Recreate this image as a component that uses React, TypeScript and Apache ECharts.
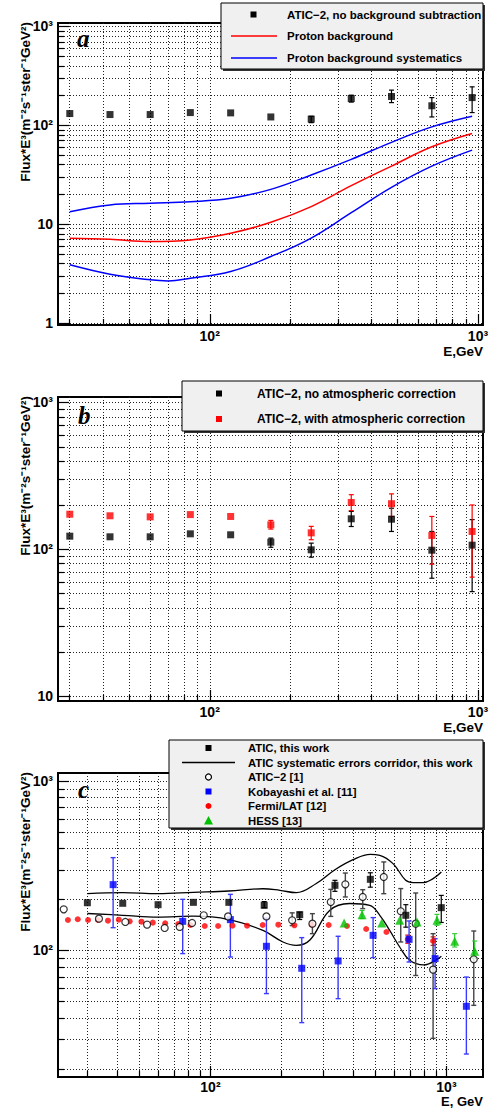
import React, { useEffect, useRef } from 'react';
import * as echarts from 'echarts';

// ---------------- DATA ----------------
const E_ATIC = [30.1, 42.5, 60, 84.7, 119.7, 169, 239, 337, 476, 673, 951];

// Panel a
const A_FLUX = [131, 128, 128, 134, 133, 121, 115, 186, 195, 157, 190];
const A_LO = [null, null, null, null, null, null, 106, 171, 169, 121, 134];
const A_HI = [null, null, null, null, null, null, 123, 201, 226, 190, 244];
const A_CURVE_E = [30.1, 42.5, 60, 84.7, 119.7, 169, 239, 337, 476, 673, 951];
const A_PROTON = [7.16, 7.0, 6.64, 6.9, 8.05, 10.4, 15.0, 24.4, 38.5, 60.4, 82.4];
const A_SYS_HI = [13.3, 15.6, 16.2, 16.8, 18.2, 22.4, 31.3, 45, 67, 96, 123];
const A_SYS_LO_E = [30.1, 42.5, 60, 70, 84.7, 119.7, 169, 239, 337, 476, 673, 951];
const A_SYS_LO = [3.86, 3.1, 2.72, 2.65, 2.82, 3.3, 4.68, 7.2, 13.0, 23.5, 38.5, 55.9];

// Panel b
const B_NOCORR = [122.6, 121.4, 121.4, 127.2, 125.3, 111.6, 99, 161, 160, 98.4, 106.5];
const B_NOCORR_LO = [null, null, null, null, null, 103, 88.2, 142.7, 132, 63.4, 51.4];
const B_NOCORR_HI = [null, null, null, null, null, 118.9, 109.9, 180.8, 190, 132, 159];
const B_CORR = [173, 168.8, 166, 172, 167, 146.5, 129.2, 208, 204, 124, 132];
const B_CORR_LO = [null, null, null, null, null, 137, 116, 183, 167, 79, 64.5];
const B_CORR_HI = [null, null, null, null, null, 157, 143, 235, 238, 167, 200];

// Panel c
const C_ATIC = [191, 189.5, 186, 192, 192, 184.4, 162.4, 242, 262.6, 161, 178.6];
const C_ATIC_LO = [null, null, null, null, null, 178.6, 152, 223, 236, 137, 146];
const C_ATIC_HI = [null, null, null, null, null, 194, 168, 259, 287, 186, 211];

const C_SYS_HI_E = [30.1, 42.5, 60, 84.7, 119.7, 167, 197, 231, 281, 337, 402, 476, 522, 594, 672, 722, 796, 878, 952];
const C_SYS_HI = [216, 219, 216, 220, 224, 231, 226, 219, 248, 299, 343, 369, 364, 325, 259, 251, 251, 265, 290];
const C_SYS_LO_E = [30.1, 42.5, 60, 84.7, 119.7, 167, 203, 231, 264, 320, 389, 473, 522, 575, 634, 699, 800, 952];
const C_SYS_LO = [165, 161, 157, 159, 152, 131, 112, 107, 115, 172, 189, 184, 161, 131, 104.6, 87.3, 82, 92.2];

const C_ATIC2_E = [23.9, 33.7, 43.6, 53.9, 64.0, 74.1, 83.6, 93.7, 118.8, 172.7, 222, 270.5, 323.6, 373, 442, 542.7, 640.5, 741, 878, 1306];
const C_ATIC2 = [174.6, 153.8, 147, 141.8, 135.5, 137.4, 145, 161, 158.6, 158.6, 150.4, 143.7, 192.8, 245.3, 206.6, 271, 170, 143.7, 76.9, 88.5];
const C_ATIC2_LO = [null, null, null, null, null, null, null, null, null, null, 140, 125.4, 158.6, 206.6, 176.3, 216, 112, 71, 30.2, 47.3];
const C_ATIC2_HI = [null, null, null, null, null, null, null, null, null, null, 166.4, 164.6, 229, 286, 228, 332.6, 231.5, 218, 125.4, 130];

const C_KOB_E = [38.7, 76.3, 121.5, 172.7, 243.8, 347.6, 489, 694.7, 895.6, 1215];
const C_KOB = [244.2, 148.3, 151.7, 105.6, 78.3, 86.5, 122.6, 116.1, 89.3, 46.7];
const C_KOB_LO = [136, 95.6, 91.3, 55.5, 37.4, 51.8, 90.5, 85.3, 59.4, 24.4];
const C_KOB_HI = [352.6, 200, 214, 155, 118.8, 121, 156, 149, 117, 69.5];

const C_FERMI_E = [24.9, 27.4, 30.3, 33.4, 36.8, 40.9, 45.5, 51, 57, 64.3, 73, 82.3, 94.6, 107.8, 124, 143, 166.6, 194, 227, 268.8, 317, 379, 457, 557, 686, 878];
const C_FERMI = [151, 152.5, 151, 151, 149.6, 151.7, 148.3, 147.6, 145.7, 144.3, 143, 141.1, 139.2, 139.2, 139.8, 139.8, 141.1, 141.7, 140.5, 141.7, 141.1, 139.2, 133.6, 128.3, 116.1, 113.5];
const C_FERMI_LO = [null, null, null, null, null, null, null, null, null, null, null, null, null, null, null, null, null, null, null, null, null, null, null, null, 110, 107];
const C_FERMI_HI = [null, null, null, null, null, null, null, null, null, null, null, null, null, null, null, null, null, null, null, null, null, null, null, null, 123, 120];

const C_HESS_E = [368.6, 439, 532, 634, 751, 912, 1084, 1318];
const C_HESS = [145, 162.4, 145, 150.4, 147, 150.4, 113, 98.7];
const C_HESS_LO = [null, 154, null, null, null, 140.5, 104.6, 90.5];
const C_HESS_HI = [null, 172, null, null, null, 163, 125.4, 113.5];

// Grid / tick values
const X_TICKS = [30, 40, 50, 60, 70, 80, 90, 100, 200, 300, 400, 500, 600, 700, 800, 900, 1000];
const Y_TICKS_A = [1, 2, 3, 4, 5, 6, 7, 8, 9, 10, 20, 30, 40, 50, 60, 70, 80, 90, 100, 200, 300, 400, 500, 600, 700, 800, 900, 1000];
const Y_TICKS_B = [10, 20, 30, 40, 50, 60, 70, 80, 90, 100, 200, 300, 400, 500, 600, 700, 800, 900, 1000];
const Y_TICKS_C = [20, 30, 40, 50, 60, 70, 80, 90, 100, 200, 300, 400, 500, 600, 700, 800, 900, 1000];

// ---------------- LAYOUT ----------------
const FONT = 'Liberation Sans';
const PANELS = [
  { top: 23, height: 302, xmin: 27.2, xmax: 1044, ymin: 0.95, ymax: 1080, xLabelMargin: 4 },
  { top: 397, height: 304, xmin: 27.2, xmax: 1044, ymin: 9.25, ymax: 1087, xLabelMargin: 4 },
  { top: 773, height: 304, xmin: 22.6, xmax: 1429, ymin: 17.85, ymax: 1115, xLabelMargin: 3 },
];
const GRID_LEFT = 58;
const GRID_WIDTH = 425;

function isPow10(v: number) {
  const l = Math.log10(v);
  return Math.abs(l - Math.round(l)) < 1e-6;
}

function powLabel(v: number): string {
  if (!isPow10(v)) return '';
  const r = Math.round(Math.log10(v));
  if (r === 0) return '1';
  if (r === 1) return '10';
  if (r === 2) return '10²';
  if (r === 3) return '10³';
  return '';
}

function pairs(xs: number[], ys: number[]) {
  return xs.map((x, i) => [x, ys[i]]);
}

function gridSeries(idx: number, yTicks: number[]) {
  const p = PANELS[idx];
  const xm = Math.sqrt(p.xmin * p.xmax);
  const ym = Math.sqrt(p.ymin * p.ymax);
  const data: number[][] = [];
  X_TICKS.forEach((v) => data.push([v, ym, 0, isPow10(v) ? 1 : 0]));
  yTicks.forEach((v) => data.push([xm, v, 1, isPow10(v) ? 1 : 0]));
  return {
    type: 'custom',
    xAxisIndex: idx,
    yAxisIndex: idx,
    silent: true,
    z: 1,
    encode: { x: 0, y: 1 },
    data,
    renderItem: (params: any, api: any) => {
      const cs = params.coordSys;
      const pt = api.coord([api.value(0), api.value(1)]);
      const kind = api.value(2);
      const major = api.value(3);
      const len = major ? 11 : 6;
      const dot = { stroke: '#222', lineWidth: 1, lineDash: [1, 2] };
      const solid = { stroke: '#000', lineWidth: 1.2 };
      if (kind === 0) {
        const x = Math.round(pt[0]) + 0.5;
        const yb = cs.y + cs.height;
        return {
          type: 'group',
          children: [
            { type: 'line', shape: { x1: x, y1: cs.y, x2: x, y2: yb }, style: dot },
            { type: 'line', shape: { x1: x, y1: yb, x2: x, y2: yb - len }, style: solid },
          ],
        };
      }
      const y = Math.round(pt[1]) + 0.5;
      return {
        type: 'group',
        children: [
          { type: 'line', shape: { x1: cs.x, y1: y, x2: cs.x + cs.width, y2: y }, style: dot },
          { type: 'line', shape: { x1: cs.x, y1: y, x2: cs.x + len, y2: y }, style: solid },
        ],
      };
    },
  };
}

function errSeries(idx: number, xs: number[], lo: (number | null)[], hi: (number | null)[], color: string, width = 1.2) {
  const data: number[][] = [];
  xs.forEach((x, i) => {
    const l = lo[i];
    const h = hi[i];
    if (l != null && h != null) data.push([x, l, h]);
  });
  return {
    type: 'custom',
    xAxisIndex: idx,
    yAxisIndex: idx,
    silent: true,
    z: 4,
    encode: { x: 0, y: [1, 2] },
    data,
    renderItem: (params: any, api: any) => {
      const a = api.coord([api.value(0), api.value(1)]);
      const b = api.coord([api.value(0), api.value(2)]);
      const cap = 2.5;
      const st = { stroke: color, lineWidth: width };
      return {
        type: 'group',
        children: [
          { type: 'line', shape: { x1: a[0], y1: a[1], x2: b[0], y2: b[1] }, style: st },
          { type: 'line', shape: { x1: a[0] - cap, y1: a[1], x2: a[0] + cap, y2: a[1] }, style: st },
          { type: 'line', shape: { x1: b[0] - cap, y1: b[1], x2: b[0] + cap, y2: b[1] }, style: st },
        ],
      };
    },
  };
}

function scatter(idx: number, xs: number[], ys: number[], symbol: string, size: number, itemStyle: any) {
  return {
    type: 'scatter',
    xAxisIndex: idx,
    yAxisIndex: idx,
    silent: true,
    z: 5,
    symbol,
    symbolSize: size,
    itemStyle,
    data: pairs(xs, ys),
  };
}

function curve(idx: number, xs: number[], ys: number[], color: string, width = 1.5) {
  return {
    type: 'line',
    xAxisIndex: idx,
    yAxisIndex: idx,
    silent: true,
    z: 3,
    smooth: 0.4,
    showSymbol: false,
    symbol: 'none',
    lineStyle: { color, width },
    data: pairs(xs, ys),
  };
}

function txt(text: string, x: number, y: number, fontSize: number, extra: any = {}) {
  return {
    type: 'text',
    z: 102,
    silent: true,
    style: {
      text,
      x,
      y,
      fill: '#000',
      fontSize,
      fontWeight: 'bold',
      fontFamily: FONT,
      verticalAlign: 'middle',
      align: 'left',
      ...extra,
    },
  };
}

function box(x: number, y: number, w: number, h: number) {
  return [
    { type: 'rect', z: 100, silent: true, shape: { x: x + 2, y: y + 2, width: w, height: h }, style: { fill: '#333' } },
    { type: 'rect', z: 101, silent: true, shape: { x, y, width: w, height: h }, style: { fill: '#f0f0f0', stroke: '#000', lineWidth: 1 } },
  ];
}

function sq(cx: number, cy: number, s: number, color: string) {
  return { type: 'rect', z: 102, silent: true, shape: { x: cx - s / 2, y: cy - s / 2, width: s, height: s }, style: { fill: color } };
}

function seg(x1: number, x2: number, y: number, color: string, w = 1.5) {
  return { type: 'line', z: 102, silent: true, shape: { x1, y1: y, x2, y2: y }, style: { stroke: color, lineWidth: w } };
}

function buildOption() {
  const grids = PANELS.map((p) => ({
    left: GRID_LEFT,
    top: p.top,
    width: GRID_WIDTH,
    height: p.height,
    show: true,
    borderColor: '#000',
    borderWidth: 2,
    backgroundColor: 'transparent',
    containLabel: false,
    outerBoundsMode: 'none',
  }));
  const axisLabel = {
    formatter: (v: number) => powLabel(v),
    fontSize: 14,
    fontWeight: 'bold',
    fontFamily: FONT,
    color: '#000',
    margin: 5,
  };
  const xAxis = PANELS.map((p, i) => ({
    type: 'log',
    logBase: 10,
    gridIndex: i,
    min: p.xmin,
    max: p.xmax,
    axisLine: { show: false },
    axisTick: { show: false },
    splitLine: { show: false },
    axisLabel: { ...axisLabel, margin: p.xLabelMargin, lineHeight: 14 },
  }));
  const yAxis = PANELS.map((p, i) => ({
    type: 'log',
    logBase: 10,
    gridIndex: i,
    min: p.ymin,
    max: p.ymax,
    axisLine: { show: false },
    axisTick: { show: false },
    splitLine: { show: false },
    axisLabel,
  }));

  const series: any[] = [
    // Panel a
    gridSeries(0, Y_TICKS_A),
    curve(0, A_CURVE_E, A_PROTON, '#ff0000'),
    curve(0, A_CURVE_E, A_SYS_HI, '#0000ff'),
    curve(0, A_SYS_LO_E, A_SYS_LO, '#0000ff'),
    errSeries(0, E_ATIC, A_LO, A_HI, '#000'),
    scatter(0, E_ATIC, A_FLUX, 'rect', 7, { color: '#000' }),
    // Panel b
    gridSeries(1, Y_TICKS_B),
    errSeries(1, E_ATIC, B_NOCORR_LO, B_NOCORR_HI, '#000'),
    scatter(1, E_ATIC, B_NOCORR, 'rect', 7, { color: '#000' }),
    errSeries(1, E_ATIC, B_CORR_LO, B_CORR_HI, '#ff0000'),
    scatter(1, E_ATIC, B_CORR, 'rect', 7, { color: '#ff0000' }),
    // Panel c
    gridSeries(2, Y_TICKS_C),
    curve(2, C_SYS_HI_E, C_SYS_HI, '#000', 1.3),
    curve(2, C_SYS_LO_E, C_SYS_LO, '#000', 1.3),
    errSeries(2, C_FERMI_E, C_FERMI_LO, C_FERMI_HI, '#ff0000'),
    scatter(2, C_FERMI_E, C_FERMI, 'circle', 6, { color: '#ff0000' }),
    errSeries(2, C_KOB_E, C_KOB_LO, C_KOB_HI, '#3c3cff', 1.4),
    scatter(2, C_KOB_E, C_KOB, 'rect', 7, { color: '#0000ff' }),
    errSeries(2, C_ATIC2_E, C_ATIC2_LO, C_ATIC2_HI, '#444', 1.4),
    scatter(2, C_ATIC2_E, C_ATIC2, 'circle', 7, { color: '#fff', borderColor: '#000', borderWidth: 1.2 }),
    errSeries(2, C_HESS_E, C_HESS_LO, C_HESS_HI, '#33cc33'),
    scatter(2, C_HESS_E, C_HESS, 'triangle', 9, { color: '#00c000' }),
    errSeries(2, E_ATIC, C_ATIC_LO, C_ATIC_HI, '#000'),
    scatter(2, E_ATIC, C_ATIC, 'rect', 7, { color: '#000' }),
  ];

  const yTitle = 'Flux*E³(m⁻²s⁻¹ster⁻¹GeV²)';
  const graphic: any[] = [
    // y titles
    ...PANELS.map((p) => ({
      type: 'text',
      z: 50,
      silent: true,
      x: 25,
      y: p.top - 1,
      rotation: Math.PI / 2,
      style: { text: yTitle, x: 0, y: 0, fill: '#000', fontSize: 13.5, fontWeight: 'bold', fontFamily: FONT, align: 'right', verticalAlign: 'middle' },
    })),
    // x titles
    txt('E,GeV', 483, 351, 13.5, { align: 'right', lineHeight: 13 }),
    txt('E,GeV', 483, 727, 13.5, { align: 'right', lineHeight: 13 }),
    txt('E, GeV', 483, 1101.5, 13, { align: 'right', lineHeight: 11 }),
    // panel letters
    txt('a', 77, 38, 25, { fontFamily: 'Liberation Serif', fontStyle: 'italic' }),
    txt('b', 78, 415, 25, { fontFamily: 'Liberation Serif', fontStyle: 'italic' }),
    txt('c', 78, 789, 25, { fontFamily: 'Liberation Serif', fontStyle: 'italic' }),
    // legend a
    ...box(221, 3, 262, 66),
    sq(253.5, 14.5, 6, '#000'),
    txt('ATIC−2, no background subtraction', 287, 14.5, 11.5),
    seg(231, 277, 36, '#ff0000'),
    txt('Proton background', 287, 36, 11.5),
    seg(231, 277, 58, '#0000ff'),
    txt('Proton background systematics', 287, 58, 11.5),
    // legend b
    ...box(182, 381, 301, 50),
    sq(219, 393.5, 6, '#000'),
    txt('ATIC−2, no atmospheric correction', 257, 393.5, 12),
    sq(219, 419, 6, '#ff0000'),
    txt('ATIC−2, with atmospheric correction', 257, 419, 12),
    // legend c
    ...box(169, 740, 314, 88),
    sq(208.5, 748, 6, '#000'),
    txt('ATIC, this work', 248, 748, 11.3),
    seg(182, 235, 762.5, '#000', 1.3),
    txt('ATIC systematic errors corridor, this work', 248, 762.5, 11.3),
    { type: 'circle', z: 102, silent: true, shape: { cx: 208.5, cy: 777, r: 3 }, style: { fill: '#fff', stroke: '#000', lineWidth: 1.2 } },
    txt('ATIC−2 [1]', 248, 777, 11.3),
    sq(208.5, 791.5, 6, '#0000ff'),
    txt('Kobayashi et al. [11]', 248, 791.5, 11.3),
    { type: 'circle', z: 102, silent: true, shape: { cx: 208.5, cy: 806, r: 3 }, style: { fill: '#ff0000' } },
    txt('Fermi/LAT [12]', 248, 806, 11.3),
    { type: 'polygon', z: 102, silent: true, shape: { points: [[208.5, 816], [213, 824.5], [204, 824.5]] }, style: { fill: '#00c000' } },
    txt('HESS [13]', 248, 820.5, 11.3),
  ];

  return {
    animation: false,
    backgroundColor: '#fff',
    grid: grids,
    xAxis,
    yAxis,
    series,
    graphic,
  };
}

export default function App() {
  const ref = useRef<HTMLDivElement>(null);
  useEffect(() => {
    if (!ref.current) return;
    const chart = echarts.init(ref.current, undefined, { renderer: 'svg' });
    chart.setOption(buildOption() as any);
    return () => chart.dispose();
  }, []);
  return (
    <div
      ref={ref}
      style={{ position: 'absolute', left: 0, top: 0, width: 495, height: 1108, background: '#fff' }}
    />
  );
}
